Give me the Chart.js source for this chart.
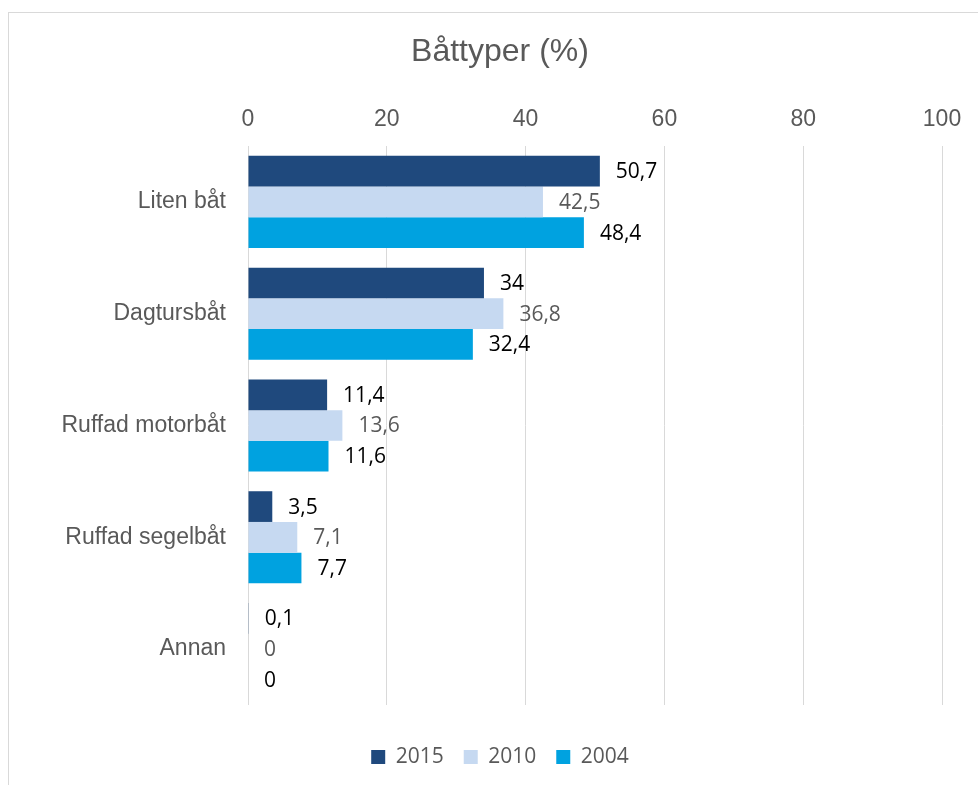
<!DOCTYPE html>
<html>
<head>
<meta charset="utf-8">
<script src="https://cdn.jsdelivr.net/npm/chart.js@4.4.1/dist/chart.umd.min.js"></script>
<style>
  html, body { margin: 0; padding: 0; background: #ffffff; }
  #wrap { position: absolute; left: 0; top: 0; width: 978px; height: 785px; }
</style>
</head>
<body>
<div id="wrap"><canvas id="c" width="978" height="785"></canvas></div>
<script>
const categories = ["Liten båt", "Dagtursbåt", "Ruffad motorbåt", "Ruffad segelbåt", "Annan"];
const seriesNames = ["2015", "2010", "2004"];
const values2015 = [50.7, 34, 11.4, 3.5, 0.1];
const values2010 = [42.5, 36.8, 13.6, 7.1, 0];
const values2004 = [48.4, 32.4, 11.6, 7.7, 0];
const xTicks = [0, 20, 40, 60, 80, 100];
const chartTitle = "Båttyper (%)";

const colors = ["#1F497D", "#C6D9F1", "#00A2E0"];
const labelColors = ["#000000", "#595959", "#000000"];

const framePlugin = {
  id: 'frame',
  beforeDraw(chart) {
    const ctx = chart.ctx;
    ctx.save();
    ctx.fillStyle = '#ffffff';
    ctx.fillRect(0, 0, chart.width, chart.height);
    ctx.strokeStyle = '#d9d9d9';
    ctx.lineWidth = 1;
    ctx.strokeRect(8.5, 12.5, 1200, 1200);
    ctx.restore();
  }
};

const valueLabelPlugin = {
  id: 'valueLabels',
  afterDatasetsDraw(chart) {
    const ctx = chart.ctx;
    ctx.save();
    ctx.font = '21px "Open Sans"';
    ctx.textAlign = 'left';
    ctx.textBaseline = 'middle';
    chart.data.datasets.forEach((ds, di) => {
      const meta = chart.getDatasetMeta(di);
      ctx.fillStyle = labelColors[di];
      meta.data.forEach((bar, i) => {
        const v = ds.data[i];
        const txt = String(v).replace('.', ',');
        ctx.fillText(txt, bar.x + 16, bar.y + 1);
      });
    });
    ctx.restore();
  }
};

new Chart(document.getElementById('c'), {
  type: 'bar',
  data: {
    labels: categories,
    datasets: [
      { label: seriesNames[0], data: values2015, backgroundColor: colors[0] },
      { label: seriesNames[1], data: values2010, backgroundColor: colors[1] },
      { label: seriesNames[2], data: values2004, backgroundColor: colors[2] }
    ]
  },
  options: {
    indexAxis: 'y',
    responsive: false,
    animation: false,
    devicePixelRatio: 1,
    layout: { padding: { left: 22, right: 0, top: 0, bottom: 7.5 } },
    datasets: { bar: { categoryPercentage: 0.824, barPercentage: 1.0 } },
    scales: {
      x: {
        type: 'linear',
        position: 'top',
        min: 0,
        max: 100,
        afterBuildTicks(scale) { scale.ticks = xTicks.map(v => ({ value: v })); },
        afterFit(scale) { scale.height = 64.6; },
        grid: { color: '#d9d9d9', lineWidth: 1, drawTicks: false },
        border: { display: false },
        ticks: {
          padding: 13,
          color: '#595959',
          font: { family: '"Liberation Sans", Arial, sans-serif', size: 23 }
        }
      },
      x2: {
        type: 'linear',
        axis: 'x',
        position: 'bottom',
        grid: { display: false, drawTicks: false },
        border: { display: false },
        ticks: { display: false },
        afterFit(scale) { scale.height = 21.5; }
      },
      y: {
        position: 'left',
        afterFit(scale) { scale.width = 226; },
        grid: { display: false, drawTicks: false },
        border: { display: false },
        ticks: {
          padding: 22,
          color: '#595959',
          font: { family: '"Liberation Sans", Arial, sans-serif', size: 23 }
        }
      },
      y2: {
        type: 'linear',
        axis: 'y',
        position: 'right',
        grid: { display: false, drawTicks: false },
        border: { display: false },
        ticks: { display: false },
        afterFit(scale) { scale.width = 36; }
      }
    },
    plugins: {
      title: {
        display: true,
        text: chartTitle,
        color: '#595959',
        font: { family: '"Liberation Sans", Arial, sans-serif', size: 32, weight: 'normal' },
        padding: { top: 33, bottom: 10 }
      },
      legend: {
        display: true,
        position: 'bottom',
        labels: {
          boxWidth: 14,
          boxHeight: 14,
          padding: 20,
          color: '#595959',
          font: { family: '"Open Sans", sans-serif', size: 21 }
        }
      },
      tooltip: { enabled: false }
    }
  },
  plugins: [framePlugin, valueLabelPlugin]
});
</script>
</body>
</html>
